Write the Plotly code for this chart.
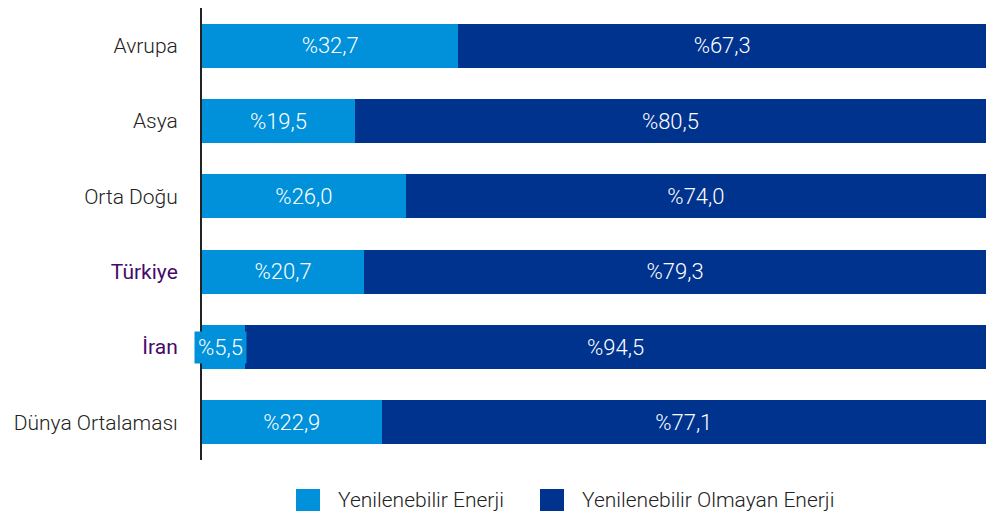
import plotly.graph_objects as go

regions = ["Avrupa", "Asya", "Orta Doğu", "Türkiye", "İran", "Dünya Ortalaması"]
renewable = [32.7, 19.5, 26.0, 20.7, 5.5, 22.9]
non_renewable = [67.3, 80.5, 74.0, 79.3, 94.5, 77.1]
series_names = ["Yenilenebilir Enerji", "Yenilenebilir Olmayan Enerji"]

LIGHT = "#0091DA"
DARK = "#00338D"
PURPLE = "#470A68"
FONT = "Roboto"
TXT = "#222222"


def pct(v):
    return "%" + f"{v:.1f}".replace(".", ",")


# Iran's light segment is too narrow for its label; it gets a boxed annotation instead
light_text = [pct(v) if v > 10 else "" for v in renewable]
dark_text = [pct(v) for v in non_renewable]

label_font = dict(color="white", size=22, family=FONT, weight=300)

fig = go.Figure()
fig.add_trace(go.Bar(
    y=regions, x=renewable, orientation="h", name=series_names[0],
    marker=dict(color=LIGHT, line=dict(width=0)),
    text=light_text, textposition="inside", insidetextanchor="middle",
    textfont=label_font, hoverinfo="skip",
))
fig.add_trace(go.Bar(
    y=regions, x=non_renewable, orientation="h", name=series_names[1],
    marker=dict(color=DARK, line=dict(width=0)),
    text=dark_text, textposition="inside", insidetextanchor="middle",
    textfont=label_font, hoverinfo="skip",
))

for r, v in zip(regions, renewable):
    if v <= 10:
        fig.add_annotation(
            x=0, y=r, xref="x", yref="y", text=pct(v), showarrow=False,
            xanchor="left", xshift=-8, bgcolor=LIGHT, borderpad=3,
            font=label_font,
        )

# legend drawn by hand so the swatches are as big as in the original
legend_pos = [(0.1199, 0.1505, 0.1709), (0.4311, 0.4617, 0.4821)]
for (x0, x1, tx), name, col in zip(legend_pos, series_names, [LIGHT, DARK]):
    fig.add_shape(type="rect", xref="paper", yref="paper",
                  x0=x0, x1=x1, y0=-0.1128, y1=-0.0642,
                  fillcolor=col, line=dict(width=0))
    fig.add_annotation(x=tx, y=-0.0885, xref="paper", yref="paper",
                       text=name, showarrow=False, xanchor="left",
                       yanchor="middle",
                       font=dict(size=21, family=FONT, color=TXT, weight=300))

tick_text = [
    f'<span style="color:{PURPLE};font-weight:400">{r}</span>'
    if r in ("Türkiye", "İran") else r
    for r in regions
]

fig.update_layout(
    barmode="stack",
    bargap=0.42,
    width=986, height=518,
    margin=dict(l=202, r=0, t=8, b=58, autoexpand=False),
    plot_bgcolor="white", paper_bgcolor="white",
    font=dict(family=FONT, size=21, color=TXT, weight=300),
    showlegend=False,
    xaxis=dict(range=[0, 100], visible=False, fixedrange=True),
    yaxis=dict(
        autorange="reversed", tickvals=regions, ticktext=tick_text,
        showline=True, linecolor=TXT, linewidth=2, automargin=False,
        ticks="", ticklabelstandoff=18, showgrid=False, fixedrange=True,
        tickfont=dict(size=21, family=FONT, color=TXT, weight=300),
    ),
)

fig.write_html("out.html", config={"displayModeBar": False},
               post_script="document.body.style.margin='0';")
